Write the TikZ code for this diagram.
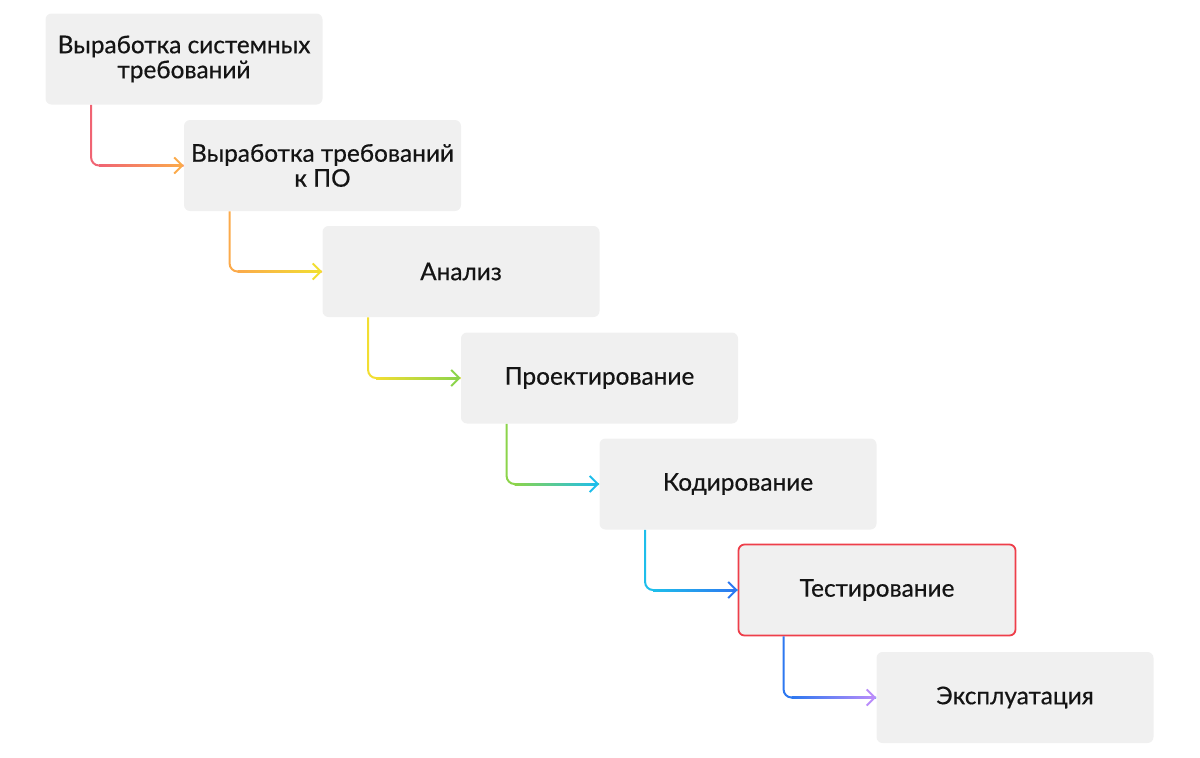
\documentclass[tikz,border=0pt]{standalone}
\usepackage{fontspec}
\setmainfont{Lato}
\newfontfamily\stagefont{Lato}[FakeBold=0.5]
\usetikzlibrary{arrows.meta, positioning, calc}
\definecolor{boxgray}{RGB}{240,240,240}
\definecolor{myred}{RGB}{238,62,74}
\definecolor{flowred}{RGB}{240,100,115}
\definecolor{floworange}{RGB}{251,170,75}
\definecolor{flowyellow}{RGB}{242,222,50}
\definecolor{flowlime}{RGB}{140,212,75}
\definecolor{flowcyan}{RGB}{30,190,235}
\definecolor{flowblue}{RGB}{45,120,240}
\definecolor{flowviolet}{RGB}{185,140,250}

\begin{document}
\begin{tikzpicture}[x=0.5pt,y=-0.5pt,
    stage/.style={fill=boxgray,rounded corners=3pt,minimum width=138.5pt,minimum height=45.5pt,
      inner sep=0pt,align=center,text=black!92,font=\stagefont\fontsize{12.2}{12.5}\selectfont},
    current/.style={stage,draw=myred,line width=0.9pt},
    flow/.style={line width=1pt,rounded corners=4pt}]
  \useasboundingbox (0,0) rectangle (1200,757);
  % stages
  \node[stage] (sysreq) at (184,59) {Выработка системных\\требований};
  \node[stage] (swreq) at (322.5,165.5) {Выработка требований\\к ПО};
  \node[stage] (analysis) at (461,271.5) {Анализ};
  \node[stage] (design) at (599.5,378) {Проектирование};
  \node[stage] (coding) at (738,484) {Кодирование};
  \node[current] (testing) at (877,590) {Тестирование};
  \node[stage] (operation) at (1015,697.5) {Эксплуатация};
  % connectors
  \foreach \a/\b/\ca/\cb in {sysreq/swreq/flowred/floworange,
      swreq/analysis/floworange/flowyellow,
      analysis/design/flowyellow/flowlime,
      design/coding/flowlime/flowcyan,
      coding/testing/flowcyan/flowblue,
      testing/operation/flowblue/flowviolet}{
    \draw[flow,\ca] ([xshift=23pt]\a.south west) |- (\b.west);
    \shade[left color=\ca,right color=\cb]
      ([xshift=27pt,yshift=-0.5pt]\a.south west |- \b.west) rectangle ([xshift=-1pt,yshift=0.5pt]\b.west);
    \draw[\cb,line width=1pt,-{Straight Barb[length=4pt,width=8pt]}] ([xshift=-3pt]\b.west) -- (\b.west);
  }
\end{tikzpicture}
\end{document}
